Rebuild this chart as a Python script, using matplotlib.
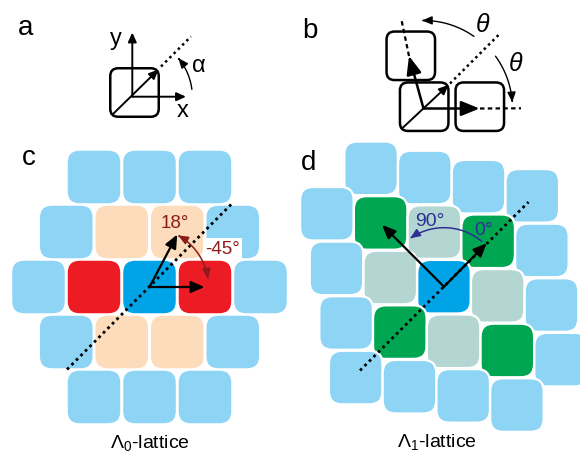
import numpy as np
import matplotlib
matplotlib.use("Agg")
import matplotlib.pyplot as plt
from matplotlib.patches import FancyBboxPatch, FancyArrowPatch
from matplotlib.path import Path

plt.rcParams["font.family"] = ["Liberation Sans", "DejaVu Sans"]
plt.rcParams["mathtext.fontset"] = "custom"
plt.rcParams["mathtext.rm"] = "Liberation Sans"
plt.rcParams["mathtext.it"] = "Liberation Sans:italic"

# tile colours
colour_key = {
    "L": "#8ed4f5",   # outer shell
    "B": "#00a4e6",   # central tile
    "R": "#ed1c24",   # Lambda_0 neighbours along x
    "P": "#fcdcba",   # Lambda_0 oblique neighbours
    "G": "#00a651",   # Lambda_1 diagonal neighbours
    "S": "#b3d6d2",   # Lambda_1 side neighbours
}
DARKRED = "#8b1c1c"
NAVY = "#2e3192"

# Lambda_0 lattice, rows from top to bottom, each row centred
c_rows = ["LLL", "LPPL", "LRBRL", "LPPL", "LLL"]
# Lambda_1 lattice, rows j = 2..-2, columns i = -2..2 ('.' = no tile)
d_rows = [".LLLL", "LGSGL", "LSBSL", "LGSGL", "LLLL."]

c_angle_labels = ["18°", "-45°"]
d_angle_labels = ["90°", "0°"]
lattice_names = [r"$\Lambda_0$-lattice", r"$\Lambda_1$-lattice"]
panel_letters = ["a", "b", "c", "d"]

fig = plt.figure(figsize=(5.8, 4.53), dpi=100)
ax = fig.add_axes([0, 0, 1, 1])
ax.set_xlim(0, 580)
ax.set_ylim(453, 0)
ax.set_aspect("equal")
ax.axis("off")


def tile(x, y, col, s=52.5, r=11, edge=0.0):
    ax.add_patch(FancyBboxPatch((x - s / 2, y - s / 2), s, s,
                                boxstyle=f"round,pad=0,rounding_size={r}",
                                fc=col, ec="white" if edge else "none", lw=edge,
                                zorder=1))


def outline_box(x, y, s=48.5, r=8):
    ax.add_patch(FancyBboxPatch((x - s / 2, y - s / 2), s, s,
                                boxstyle=f"round,pad=0,rounding_size={r}",
                                fc="none", ec="k", lw=1.8, zorder=2))


def arrow(p0, p1, color="k", lw=1.6, hl=0.8, hw=0.35):
    ax.annotate("", xy=p1, xytext=p0,
                arrowprops=dict(arrowstyle=f"-|>,head_length={hl},head_width={hw}",
                                color=color, lw=lw, shrinkA=0, shrinkB=0),
                zorder=4)


def arc_arrow(centre, r, t1, t2, color="k", lw=1.0, style="-|>,head_length=0.6,head_width=0.25"):
    t = np.radians(np.linspace(t1, t2, 60))
    pts = np.column_stack([centre[0] + r * np.cos(t), centre[1] - r * np.sin(t)])
    ax.add_patch(FancyArrowPatch(path=Path(pts), arrowstyle=style, color=color,
                                 lw=lw, mutation_scale=10, shrinkA=0, shrinkB=0,
                                 zorder=4))


def dotted(p0, p1, lw=2.0, dash=(1.0, 1.3)):
    ax.plot([p0[0], p1[0]], [p0[1], p1[1]], color="k", lw=lw,
            linestyle=(0, dash), solid_capstyle="butt", zorder=3)


# ---- a: single tile with axes and alpha
oa = (132.3, 96.7)
outline_box(134.5, 92.5)
arrow(oa, (132.3, 32.5), lw=1.4, hl=0.55, hw=0.25)
arrow(oa, (186.0, 96.7), lw=1.4, hl=0.55, hw=0.25)
arrow((113, 114), (158.5, 69.5), lw=1.4, hl=0.55, hw=0.25)
dotted((161, 66.5), (191, 36.5), lw=1.8, dash=(1.0, 1.4))
arc_arrow(oa, 60, 7, 40, lw=1.0)
ax.text(116, 45, "y", fontsize=17, ha="center", va="baseline")
ax.text(182.5, 117, "x", fontsize=17, ha="center", va="baseline")
ax.text(199, 71.5, "α", fontsize=17, ha="center", va="baseline")

# ---- b: rotation by theta
ob = (423.5, 108.5)
for bx, by in [(424.2, 106.7), (479.8, 106.7), (410.8, 55.8)]:
    outline_box(bx, by)
arrow(ob, (479.5, 108.5), lw=1.8, hl=1.1, hw=0.45)
arrow(ob, (409.0, 56.0), lw=1.8, hl=1.1, hw=0.45)
arrow((402.5, 128), (448.5, 85), lw=1.4, hl=0.55, hw=0.25)
dotted((480, 108.5), (521, 108.3), lw=1.6, dash=(2.0, 1.5))
dotted((409, 56), (401.5, 20), lw=1.6, dash=(2.0, 1.5))
dotted((450, 83.5), (498.5, 35), lw=1.8, dash=(1.0, 1.4))
arc_arrow(ob, 88, 55, 91, lw=1.0)
arc_arrow(ob, 89, 36, 4, lw=1.0)
ax.text(482.5, 32, r"$\theta$", fontsize=18, ha="center", va="baseline")
ax.text(515.5, 71, r"$\theta$", fontsize=18, ha="center", va="baseline")

# ---- c: Lambda_0 lattice
oc = (149.5, 287.0)
pitch_c, row_c = 55.5, 55.0
for k, row in enumerate(c_rows):
    n = len(row)
    for m, ch in enumerate(row):
        tile(oc[0] + (m - (n - 1) / 2) * pitch_c, oc[1] + (k - 2) * row_c,
             colour_key[ch], r=12)
dotted((67, 369.5), (233.5, 202), lw=2.0, dash=(1.0, 1.3))
arrow(oc, (oc[0] + pitch_c / 2, oc[1] - row_c + 2.5))
arrow(oc, (oc[0] + pitch_c - 0.5, oc[1]))
arc_arrow(oc, 59, 61, 8, color=DARKRED, lw=1.1,
          style="<|-|>,head_length=0.6,head_width=0.25")
ax.text(175.3, 228.5, c_angle_labels[0], fontsize=13.5, color=DARKRED,
        ha="center", va="baseline")
ax.text(222.5, 253.5, c_angle_labels[1], fontsize=13.5, color=DARKRED,
        ha="center", va="baseline",
        bbox=dict(fc="white", ec="none", pad=1.5), zorder=5)
ax.text(150, 448, lattice_names[0], fontsize=14, ha="center", va="baseline")

# ---- d: Lambda_1 lattice
od = (444.0, 286.7)
a1 = np.array([53.75, 9.17])
a2 = np.array([-9.6, -54.6])
for k, row in enumerate(d_rows):
    j = 2 - k
    for m, ch in enumerate(row):
        if ch == ".":
            continue
        i = m - 2
        x, y = np.array(od) + i * a1 + j * a2
        tile(x, y, colour_key[ch], s=53.5, r=13, edge=1.6)
dotted((360, 370.5), (528.5, 202), lw=2.0, dash=(1.0, 1.3))
arrow(od, tuple(np.array(od) + a1 + a2 - [1.5, -2]))
arrow(od, tuple(np.array(od) - a1 + a2 + [1.5, 2]))
arc_arrow(od, 59, 50, 125, color=NAVY, lw=1.1)
ax.text(430, 226.5, d_angle_labels[0], fontsize=14, color=NAVY,
        ha="center", va="baseline")
ax.text(484, 235, d_angle_labels[1], fontsize=14, color=NAVY,
        ha="center", va="baseline")
ax.text(437, 447, lattice_names[1], fontsize=14, ha="center", va="baseline")

# panel letters
for (px, py), lab in zip([(18, 35), (302, 38), (22, 165), (301, 170)], panel_letters):
    ax.text(px, py, lab, fontsize=20, ha="left", va="baseline")

fig.savefig("out.png", dpi=100)
